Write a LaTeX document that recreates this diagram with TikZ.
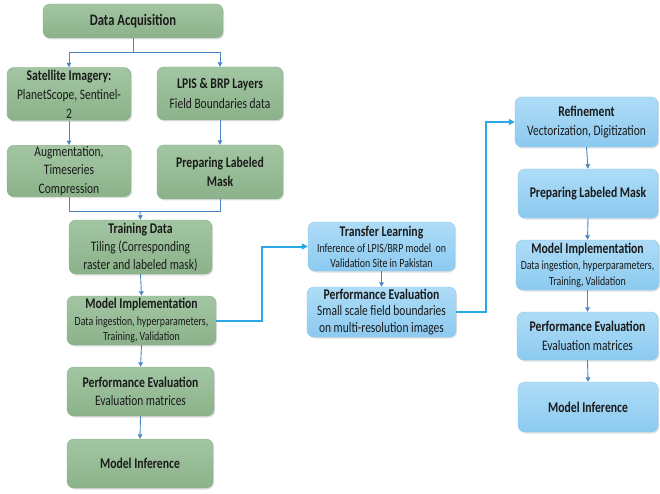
\documentclass[tikz,border=0pt]{standalone}
\usepackage{fontspec}
\setmainfont{Carlito}[FakeStretch=0.79]
\usetikzlibrary{arrows.meta,shadows,calc}
\definecolor{gtop}{HTML}{A2C6A2}
\definecolor{gbot}{HTML}{8BB28B}
\definecolor{gdraw}{HTML}{8AAE8A}
\definecolor{btop}{HTML}{AEDCF7}
\definecolor{bbot}{HTML}{8CCAF0}
\definecolor{bdraw}{HTML}{8CC4EA}
\definecolor{thinln}{HTML}{4A86C6}
\definecolor{crossln}{HTML}{2AA8E6}
\definecolor{txt}{HTML}{1A1A1A}
\tikzset{
  box/.style={rounded corners=7pt, align=center, text=txt, inner sep=1pt,
    drop shadow={shadow xshift=1.2pt, shadow yshift=-1.5pt, opacity=0.25}},
  gbox/.style={box, draw=gdraw, top color=gtop, bottom color=gbot},
  bbox/.style={box, draw=bdraw, top color=btop, bottom color=bbot},
  ls/.style={font=\fontsize{14.5}{#1}\selectfont},
  thinarrow/.style={draw=thinln, line width=0.9pt, -{Triangle[length=4.5pt,width=4.5pt]}},
  thinline/.style={draw=thinln, line width=0.9pt},
  crossarrow/.style={draw=crossln, line width=2pt, -{Triangle[length=6pt,width=6pt]}},
}
\newcommand{\bt}[1]{{\fontsize{14.8}{18}\selectfont\bfseries #1}}
\newcommand{\nt}[1]{{\fontsize{14.5}{18}\selectfont #1}}
\newcommand{\st}[1]{{\fontsize{12.5}{15}\selectfont #1}}
\begin{document}
\begin{tikzpicture}[x=1pt,y=1pt]
\useasboundingbox (0,0) rectangle (660,-494);
% green column
\node[gbox, minimum width=180pt, minimum height=34pt] (da) at (133,-21)
  {{\fontsize{16}{18}\selectfont\bfseries Data Acquisition}};
\node[gbox, ls=19, minimum width=124pt, minimum height=53pt] (sat) at (69,-94)
  {\bt{Satellite Imagery:}\\\nt{PlanetScope, Sentinel-}\\\nt{2}};
\node[gbox, ls=20, minimum width=126pt, minimum height=53pt] (lpis) at (220,-93.5)
  {\bt{LPIS \& BRP Layers}\\\nt{Field Boundaries data}};
\node[gbox, ls=18.5, minimum width=124pt, minimum height=50pt] (aug) at (69,-171)
  {\nt{Augmentation,}\\\nt{Timeseries}\\\nt{Compression}};
\node[gbox, ls=19, minimum width=126pt, minimum height=54pt] (prep) at (220,-172)
  {\bt{Preparing Labeled}\\\bt{Mask}};
\node[gbox, ls=18, minimum width=143pt, minimum height=54pt] (train) at (140.5,-247)
  {\bt{Training Data}\\\nt{Tiling (Corresponding}\\\nt{raster and labeled mask)}};
\node[gbox, ls=15.5, minimum width=149pt, minimum height=49pt] (mi) at (141.5,-320.5)
  {\bt{Model Implementation}\\[1pt]\st{Data ingestion, hyperparameters,}\\\st{Training, Validation}};
\node[gbox, ls=18, minimum width=147pt, minimum height=49pt] (pe) at (140.5,-391.5)
  {\bt{Performance Evaluation}\\\nt{Evaluation matrices}};
\node[gbox, ls=18, minimum width=146pt, minimum height=49pt] (inf) at (140,-463.5)
  {\bt{Model Inference}};
% middle blue
\node[bbox, ls=15, minimum width=147pt, minimum height=49pt] (tl) at (381.5,-246.5)
  {\bt{Transfer Learning}\\[1pt]\st{Inference of LPIS/BRP model\ \ on}\\\st{Validation Site in Pakistan}};
\node[bbox, ls=16.5, minimum width=149pt, minimum height=50pt] (pe2) at (381.5,-312)
  {\bt{Performance Evaluation}\\\nt{Small scale field boundaries}\\\nt{on multi-resolution images}};
% right blue
\node[bbox, ls=19, minimum width=143pt, minimum height=50pt] (ref) at (586.5,-122)
  {\bt{Refinement}\\\nt{Vectorization, Digitization}};
\node[bbox, ls=18, minimum width=140pt, minimum height=49pt] (prep2) at (588,-193.5)
  {\bt{Preparing Labeled Mask}};
\node[bbox, ls=15.5, minimum width=143pt, minimum height=50pt] (mi2) at (587.5,-265)
  {\bt{Model Implementation}\\[1pt]\st{Data ingestion, hyperparameters,}\\\st{Training, Validation}};
\node[bbox, ls=19, minimum width=141pt, minimum height=48pt] (pe3) at (587.5,-336)
  {\bt{Performance Evaluation}\\\nt{Evaluation matrices}};
\node[bbox, ls=18, minimum width=140pt, minimum height=50pt] (inf2) at (588,-407)
  {\bt{Model Inference}};
% connectors left
\coordinate (split) at (133,-52);
\draw[thinline] (da.south) -- (split);
\draw[thinarrow] (split) -| (sat.north);
\draw[thinarrow] (split) -| (lpis.north);
\draw[thinarrow] (sat.south) -- (aug.north);
\draw[thinarrow] (lpis.south) -- (prep.north);
\coordinate (merge) at (140,-211);
\draw[thinline] (aug.south) |- (merge);
\draw[thinline] (prep.south) |- (merge);
\draw[thinarrow] (merge) -- (train.north);
\draw[thinarrow] (train.south) -- (mi.north);
\draw[thinarrow] (mi.south) -- (pe.north);
\draw[thinarrow] (pe.south) -- (inf.north);
% middle
\draw[thinarrow] (tl.south) -- (pe2.north);
% right
\draw[thinarrow] (ref.south) -- (prep2.north);
\draw[thinarrow] (prep2.south) -- (mi2.north);
\draw[thinarrow] (mi2.south) -- (pe3.north);
\draw[thinarrow] (pe3.south) -- (inf2.north);
% cross connectors
\coordinate (c1) at (262,0);
\coordinate (c2) at (486,0);
\draw[crossarrow] (mi.east) -- (mi.east -| c1) -- (tl.west -| c1) -- (tl.west);
\draw[crossarrow] (pe2.east) -- (pe2.east -| c2) -- (ref.west -| c2) -- (ref.west);
\end{tikzpicture}
\end{document}
